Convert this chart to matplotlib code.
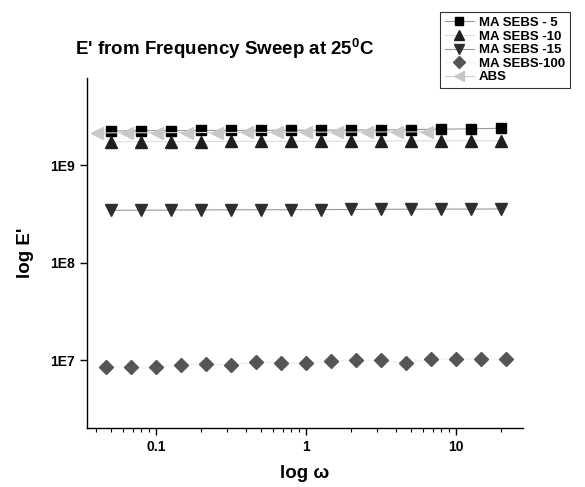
import matplotlib.pyplot as plt
from matplotlib.ticker import FixedLocator, FuncFormatter, LogLocator, NullLocator
import numpy as np

# frequency (rad/s) for each sample
freq_5 = [0.05, 0.0792, 0.126, 0.199, 0.315, 0.5, 0.792, 1.26, 2.0, 3.15, 5.0, 7.92, 12.6, 20.0]
freq_100 = [0.0464, 0.0681, 0.1, 0.147, 0.215, 0.316, 0.464, 0.681, 1.0, 1.47,
            2.15, 3.16, 4.64, 6.81, 10.0, 14.7, 21.5]
freq_abs = [0.0405, 0.064, 0.101, 0.161, 0.255, 0.404, 0.64, 1.01, 1.61, 2.55, 4.04, 6.4]

# storage modulus E' (Pa)
e_sebs5 = [2.25e9, 2.27e9, 2.27e9, 2.28e9, 2.28e9, 2.29e9, 2.29e9, 2.3e9, 2.3e9,
           2.31e9, 2.33e9, 2.35e9, 2.37e9, 2.4e9]
e_sebs10 = [1.74e9, 1.75e9, 1.75e9, 1.75e9, 1.76e9, 1.76e9, 1.76e9, 1.77e9, 1.77e9,
            1.77e9, 1.78e9, 1.78e9, 1.79e9, 1.79e9]
e_sebs15 = [3.45e8, 3.46e8, 3.47e8, 3.48e8, 3.49e8, 3.5e8, 3.5e8, 3.51e8, 3.52e8,
            3.53e8, 3.54e8, 3.55e8, 3.55e8, 3.56e8]
e_sebs100 = [8.5e6, 8.5e6, 8.5e6, 8.9e6, 9.1e6, 8.9e6, 9.45e6, 9.3e6, 9.3e6, 9.7e6,
             9.95e6, 9.95e6, 9.3e6, 1.02e7, 1.02e7, 1.02e7, 1.02e7]
e_abs = [2.15e9, 2.16e9, 2.16e9, 2.17e9, 2.17e9, 2.18e9, 2.18e9, 2.19e9, 2.19e9,
         2.2e9, 2.2e9, 2.21e9]

labels = ["MA SEBS - 5", "MA SEBS -10", "MA SEBS -15", "MA SEBS-100", "ABS"]

plt.rcParams['font.family'] = ['Liberation Sans', 'DejaVu Sans']

fig = plt.figure(figsize=(5.85, 4.87), dpi=100)
ax = fig.add_axes([0.1487, 0.121, 0.745, 0.719])

ax.plot(freq_5, e_sebs5, '-s', color='#999999', mfc='black', mec='black', ms=7.5, lw=0.8, label=labels[0])
ax.plot(freq_5, e_sebs10, '-^', color='#dddddd', mfc='#1e1e1e', mec='#1e1e1e', ms=9, lw=0.8, label=labels[1])
ax.plot(freq_5, e_sebs15, '-v', color='#999999', mfc='#2e2e2e', mec='#2e2e2e', ms=9, lw=0.8, label=labels[2])
ax.plot(freq_100, e_sebs100, '-D', color='#eeeeee', mfc='#555555', mec='#555555', ms=7.5, lw=0.8, label=labels[3])
ax.plot(freq_abs, e_abs, '-<', color='#cccccc', mfc='#c8c8c8', mec='#c8c8c8', ms=9, lw=0.8, label=labels[4])

ax.set_xscale('log')
ax.set_yscale('log')
ax.set_xlim(0.0347, 28)
ax.set_ylim(2.0e6, 7.9e9)

ax.spines['top'].set_visible(False)
ax.spines['right'].set_visible(False)
ax.spines['left'].set_linewidth(1.0)
ax.spines['bottom'].set_linewidth(1.0)

ax.xaxis.set_major_locator(FixedLocator([0.1, 1, 10]))
ax.xaxis.set_major_formatter(FuncFormatter(lambda v, p: "%g" % v))
ax.xaxis.set_minor_locator(LogLocator(base=10, subs=np.arange(2, 10)))
ax.yaxis.set_major_locator(FixedLocator([1e7, 1e8, 1e9]))
ax.yaxis.set_major_formatter(FuncFormatter(lambda v, p: "1E%d" % round(np.log10(v))))
ax.yaxis.set_minor_locator(NullLocator())

ax.tick_params(which='major', direction='out', length=5, width=1, labelsize=10)
ax.tick_params(which='minor', direction='out', length=3, width=0.8)
for t in ax.get_xticklabels() + ax.get_yticklabels():
    t.set_fontweight('bold')

ax.set_xlabel("log ω", fontsize=13.5, fontweight='bold', labelpad=8)
ax.set_ylabel("log E'", fontsize=13.5, fontweight='bold', labelpad=12)

fig.text(0.128, 0.888, "E' from Frequency Sweep at 25$^\\mathregular{0}$C", fontsize=13.5, fontweight='bold')

leg = fig.legend(loc='upper left', bbox_to_anchor=(0.752, 0.975), frameon=True, fancybox=False,
                 edgecolor='black', fontsize=9.5, handlelength=2.2, handletextpad=0.4,
                 labelspacing=0.1, borderpad=0.35, borderaxespad=0, markerscale=0.75)
leg.get_frame().set_linewidth(0.8)
for t in leg.get_texts():
    t.set_fontweight('bold')

plt.savefig("out.png", dpi=100)
